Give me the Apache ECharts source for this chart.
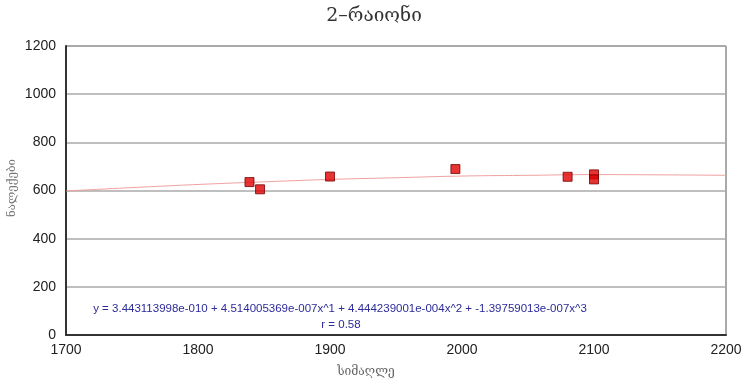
<!DOCTYPE html>
<html>
<head>
<meta charset="utf-8">
<script src="https://cdn.jsdelivr.net/npm/echarts@6/dist/echarts.min.js"></script>
<style>html,body{margin:0;padding:0;background:#fff}#c{width:747px;height:392px}</style>
</head>
<body>
<div id="c"></div>
<script>
var titleText = '2–რაიონი';
var xName = 'სიმაღლე';
var yName = 'ნალექები';
var equationText = 'y = 3.443113998e-010 + 4.514005369e-007x^1 + 4.444239001e-004x^2 + -1.39759013e-007x^3';
var rText = 'r = 0.58';
var pointX = [1839, 1847, 1900, 1995, 2080, 2100, 2100];
var pointY = [635, 605, 658, 689, 657, 667, 646];
var trendX = [1700, 1750, 1800, 1850, 1900, 1950, 2000, 2050, 2100, 2150, 2200];
var trendY = [598, 612, 625, 636, 646, 653, 660, 663, 666, 665, 663];

var pts = pointX.map(function(x, i){ return [x, pointY[i]]; });
var trend = trendX.map(function(x, i){ return [x, trendY[i]]; });
var plain = function(v){ return String(v); };

var chart = echarts.init(document.getElementById('c'));
chart.setOption({
  animation: false,
  backgroundColor: '#fff',
  grid: { left: 66, right: 21, top: 46, bottom: 57, show: true, borderColor: '#555', borderWidth: 1 },
  xAxis: {
    type: 'value', min: 1700, max: 2200, interval: 100,
    axisLine: { show: true, onZero: false, lineStyle: { color: '#333', width: 2 } },
    axisTick: { show: false },
    splitLine: { show: false },
    axisLabel: { color: '#222', fontSize: 14, fontFamily: 'Liberation Sans, Arial', margin: 8, formatter: plain }
  },
  yAxis: {
    type: 'value', min: 0, max: 1200, interval: 200,
    axisLine: { show: true, lineStyle: { color: '#333', width: 2 } },
    axisTick: { show: false },
    splitLine: { show: true, lineStyle: { color: '#aaa', width: 1.5 } },
    axisLabel: { color: '#222', fontSize: 14, fontFamily: 'Liberation Sans, Arial', margin: 10, formatter: plain }
  },
  series: [
    {
      type: 'line', data: trend, smooth: true, symbol: 'none',
      lineStyle: { color: '#f0a0a0', width: 1 }, z: 2
    },
    {
      type: 'scatter', data: pts, symbol: 'rect', symbolSize: 9,
      itemStyle: { color: '#e00000', borderColor: '#700', borderWidth: 1 }, z: 3
    }
  ],
  graphic: [
    { type: 'text', x: 374, y: 16, style: { text: titleText, fill: '#333', font: '19px "DejaVu Serif"', align: 'center', verticalAlign: 'middle' } },
    { type: 'text', x: 366, y: 372, style: { text: xName, fill: '#666', font: '12px "DejaVu Serif"', align: 'center', verticalAlign: 'middle' } },
    { type: 'text', x: 12, y: 188, rotation: Math.PI / 2, style: { text: yName, fill: '#777', font: '11.5px "DejaVu Serif"', align: 'center', verticalAlign: 'middle' } },
    { type: 'text', x: 340, y: 309, style: { text: equationText, fill: '#2b2b9a', font: '11.5px "Liberation Sans", Arial', align: 'center', verticalAlign: 'middle' } },
    { type: 'text', x: 341, y: 325, style: { text: rText, fill: '#2b2b9a', font: '11.5px "Liberation Sans", Arial', align: 'center', verticalAlign: 'middle' } }
  ]
});
</script>
</body>
</html>
